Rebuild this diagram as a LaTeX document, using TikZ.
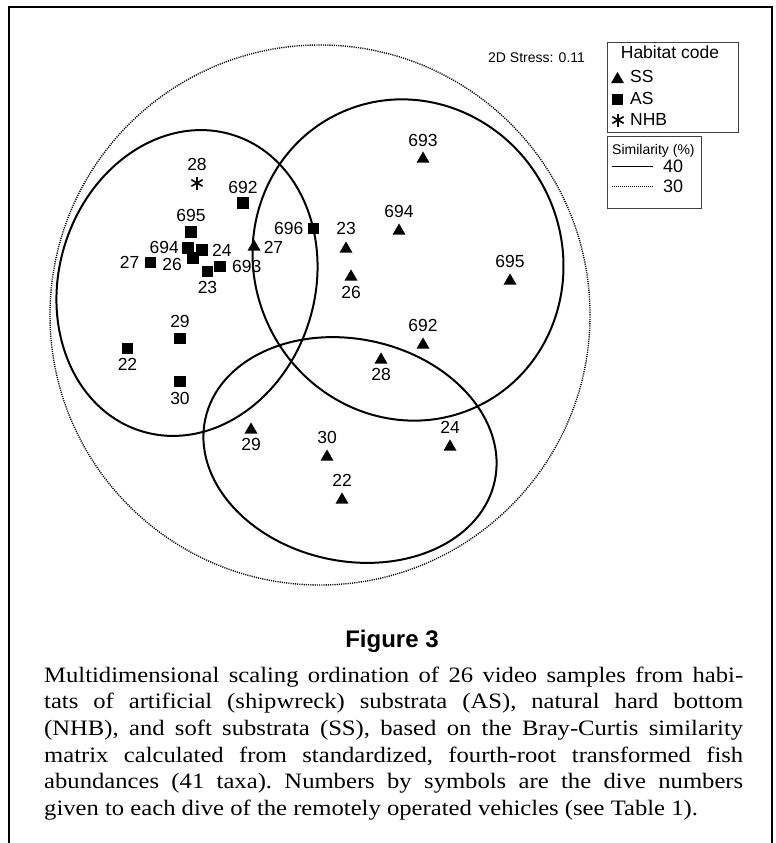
\documentclass[tikz,border=0pt]{standalone}
\usepackage{fontspec}
\setmainfont{Liberation Serif}[FakeStretch=1.12]
\newfontfamily\plotfont{Liberation Sans}
\usetikzlibrary{positioning,shapes.geometric}

\tikzset{
  sspt/.style={regular polygon, regular polygon sides=3, fill=black, inner sep=0pt, minimum size=15pt, yshift=-1.9pt},
  aspt/.style={rectangle, fill=black, inner sep=0pt, minimum size=11.5pt},
  nhbpt/.style={rectangle, inner sep=0pt, minimum size=13pt, path picture={
      \draw[line width=1.6pt] (path picture bounding box.north) -- (path picture bounding box.south);
      \draw[line width=1.6pt] ([shift={(30:6.5pt)}]path picture bounding box.center) -- ([shift={(210:6.5pt)}]path picture bounding box.center);
      \draw[line width=1.6pt] ([shift={(150:6.5pt)}]path picture bounding box.center) -- ([shift={(330:6.5pt)}]path picture bounding box.center);}},
  dive/.style={font=\plotfont\fontsize{17.5}{17.5}\selectfont, inner sep=0pt},
  leg/.style={font=\plotfont\fontsize{17.5}{17.5}\selectfont, inner sep=0pt},
  legbox/.style={draw=black!75, line width=0.9pt},
  clus/.style={line width=2pt},
  dotclus/.style={line width=1.4pt, dash pattern=on 1.1pt off 1.1pt},
}

\begin{document}
\begin{tikzpicture}[x=1pt, y=1pt]
%definitions
\def\leftellip{(187,-283) ellipse [x radius=128, y radius=155, rotate=-17]}
\def\rightellip{(408,-260) ellipse [x radius=154, y radius=162, rotate=25]}
\def\bottomellip{(350,-450) ellipse [x radius=148, y radius=111, rotate=-12]}
\def\outerellip{(320,-315) ellipse [x radius=270, y radius=270]}

\useasboundingbox (0,0) rectangle (776,-843);
\draw[line width=2pt] (9,-860) -- (9,-7) -- (772,-7) -- (772,-860);

%shapes
\draw[dotclus] \outerellip;
\draw[clus] \leftellip;
\draw[clus] \rightellip;
\draw[clus] \bottomellip;

%soft substrata
\node[sspt] (ss693) at (423,-157) {};
\node[dive, above=4pt of ss693] (lss693) {693};
\node[sspt] (ss694) at (399,-229) {};
\node[dive, above=5pt of ss694] (lss694) {694};
\node[sspt] (ss695) at (510,-279) {};
\node[dive, above=5pt of ss695] (lss695) {695};
\node[sspt] (ss23) at (346,-247) {};
\node[dive, above=6pt of ss23] (lss23) {23};
\node[sspt] (ss26) at (351,-275) {};
\node[dive, below=5pt of ss26] (lss26) {26};
\node[sspt] (ss27) at (254,-245) {};
\node[dive, right=5pt of ss27] (lss27) {27};
\node[sspt] (ss692) at (423,-343) {};
\node[dive, above=5pt of ss692] (lss692) {692};
\node[sspt] (ss28) at (381,-358) {};
\node[dive, below=4pt of ss28] (lss28) {28};
\node[sspt] (ss29) at (251,-428) {};
\node[dive, below=4pt of ss29] (lss29) {29};
\node[sspt] (ss30) at (327,-455) {};
\node[dive, above=5pt of ss30] (lss30) {30};
\node[sspt] (ss24) at (450,-445) {};
\node[dive, above=5pt of ss24] (lss24) {24};
\node[sspt] (ss22) at (342,-498) {};
\node[dive, above=5pt of ss22] (lss22) {22};

%artificial substrata
\node[aspt] (as692) at (243,-203) {};
\node[dive, above=3pt of as692] (las692) {692};
\node[aspt] (as695) at (191,-232) {};
\node[dive, above=4pt of as695] (las695) {695};
\node[aspt] (as694) at (188,-248) {};
\node[dive, left=3pt of as694, yshift=1pt] (las694) {694};
\node[aspt] (as24) at (202,-250) {};
\node[dive, right=4pt of as24] (las24) {24};
\node[aspt] (as26) at (193,-258) {};
\node[dive, left=5pt of as26, yshift=-6pt] (las26) {26};
\node[aspt] (as27) at (150.5,-262.5) {};
\node[dive, left=5pt of as27] (las27) {27};
\node[aspt] (as23) at (207.5,-271.5) {};
\node[dive, below=4pt of as23] (las23) {23};
\node[aspt] (as693) at (220,-266.5) {};
\node[dive, right=6pt of as693] (las693) {693};
\node[aspt] (as696) at (313.5,-228.5) {};
\node[dive, left=4pt of as696] (las696) {696};
\node[aspt] (as29) at (180,-338.5) {};
\node[dive, above=5pt of as29] (las29) {29};
\node[aspt] (as22) at (127.5,-348.5) {};
\node[dive, below=4pt of as22] (las22) {22};
\node[aspt] (as30) at (180,-381.5) {};
\node[dive, below=5pt of as30] (las30) {30};

%natural hard bottom
\node[nhbpt] (nhb28) at (197,-183) {};
\node[dive, above=5pt of nhb28] (lnhb28) {28};

%legend
\node[anchor=base west, inner sep=0pt, font=\plotfont\fontsize{14}{14}\selectfont] (stress) at (488,-63) {2D Stress: 0.11};
\draw[legbox] (607,-42) rectangle (738,-132);
\node[leg, anchor=base] (habtitle) at (670,-59) {Habitat code};
\node[sspt] (keyss) at (617.5,-77.5) {};
\node[leg, anchor=base west] (keysstext) at (630,-82) {SS};
\node[aspt] (keyas) at (617.5,-99.5) {};
\node[leg, anchor=base west] (keyastext) at (630,-104) {AS};
\node[nhbpt] (keynhb) at (618,-120) {};
\node[leg, anchor=base west] (keynhbtext) at (630,-125) {NHB};

\draw[legbox] (607,-136) rectangle (701,-208);
\node[anchor=base west, inner sep=0pt, font=\plotfont\fontsize{14}{14}\selectfont] (simtitle) at (612,-154.5) {Similarity (\%)};
\coordinate (k40a) at (612,-166);
\coordinate (k40b) at (653,-166);
\draw[line width=0.8pt] (k40a) -- (k40b);
\node[anchor=base west, inner sep=0pt, font=\plotfont\fontsize{18}{18}\selectfont] (k40) at (663,-172.5) {40};
\coordinate (k30a) at (612,-186);
\coordinate (k30b) at (653,-186);
\draw[line width=0.9pt, dash pattern=on 1pt off 1pt] (k30a) -- (k30b);
\node[anchor=base west, inner sep=0pt, font=\plotfont\fontsize{18}{18}\selectfont] (k30) at (663,-192.5) {30};

%caption
\node[anchor=base, inner sep=0pt, font=\plotfont\bfseries\fontsize{24}{24}\selectfont] (figno) at (392,-647) {Figure 3};
\node[anchor=north west, inner sep=0pt, text width=699pt, align=justify, font=\fontsize{22}{26.7}\selectfont] (captext) at (44,-666.5)
  {\frenchspacing\tolerance=9999 Multidimensional scaling ordination of 26 video samples from habi-\linebreak
   tats of artificial (shipwreck) substrata (AS), natural hard bottom\linebreak
   (NHB), and soft substrata (SS), based on the Bray-Curtis similarity\linebreak
   matrix calculated from standardized, fourth-root transformed fish\linebreak
   abundances (41 taxa). Numbers by symbols are the dive numbers\linebreak
   given to each dive of the remotely operated vehicles (see Table 1).};
\end{tikzpicture}
\end{document}
